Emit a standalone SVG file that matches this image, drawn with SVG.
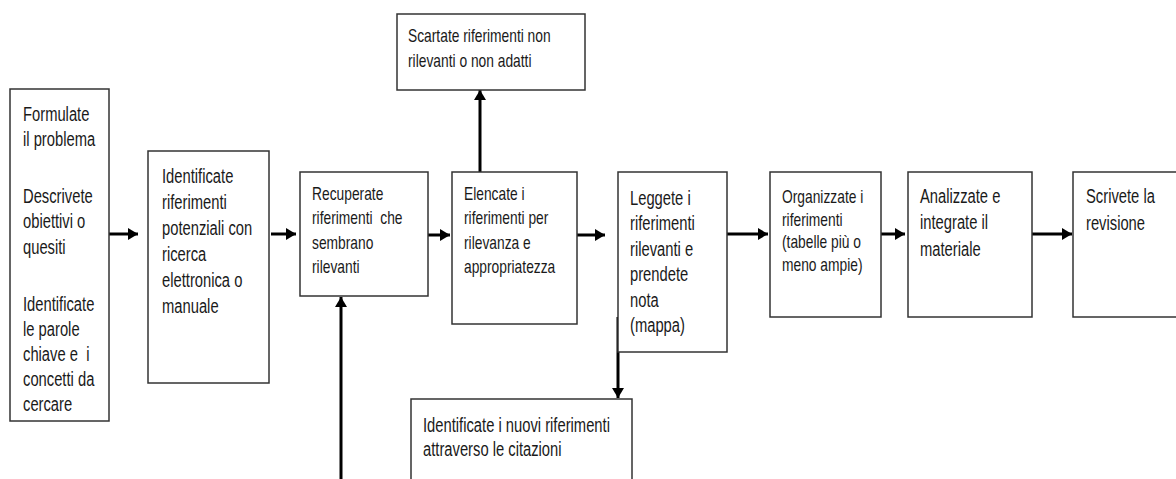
<svg xmlns="http://www.w3.org/2000/svg" width="1176" height="479" viewBox="0 0 1176 479">
<style>
.box{fill:#fff;stroke:#333;stroke-width:1.5}
.t{font-family:"Liberation Sans",Arial,sans-serif;fill:#1a1a1a;white-space:pre}
.l{font-size:19.5px}
.s{font-size:18px}
.c{stroke:#000;stroke-width:3;fill:none}
</style>
<defs>
<marker id="ah" markerUnits="userSpaceOnUse" markerWidth="11" markerHeight="12" refX="10" refY="6" orient="auto">
<path d="M0,0 L10,6 L0,12 z" fill="#000"/>
</marker>
</defs>
<rect width="1176" height="479" fill="#fff"/>
<g id="connectors">
<line class="c" x1="107" y1="234" x2="138" y2="234" marker-end="url(#ah)"/>
<line class="c" x1="271" y1="234" x2="296" y2="234" marker-end="url(#ah)"/>
<line class="c" x1="424" y1="235" x2="450" y2="235" marker-end="url(#ah)"/>
<line class="c" x1="577" y1="235" x2="605" y2="235" marker-end="url(#ah)"/>
<line class="c" x1="727" y1="234" x2="768" y2="234" marker-end="url(#ah)"/>
<line class="c" x1="866" y1="234" x2="905" y2="234" marker-end="url(#ah)"/>
<line class="c" x1="1032" y1="234" x2="1072" y2="234" marker-end="url(#ah)"/>
<line class="c" x1="480" y1="172" x2="480" y2="90" marker-end="url(#ah)"/>
<line class="c" x1="341" y1="479" x2="341" y2="297" marker-end="url(#ah)"/>
<line class="c" x1="618" y1="317" x2="618" y2="398" marker-end="url(#ah)"/>
</g>
<g id="n1">
<rect class="box" x="10" y="89" width="99" height="332"/>
<text class="t l" transform="translate(23,0) scale(0.757,1)"><tspan x="0" y="121">Formulate</tspan><tspan x="0" y="146.5">il problema</tspan><tspan x="0" y="203">Descrivete</tspan><tspan x="0" y="228.5">obiettivi o</tspan><tspan x="0" y="254">quesiti</tspan><tspan x="0" y="311">Identificate</tspan><tspan x="0" y="336">le parole</tspan><tspan x="0" y="361">chiave e  i</tspan><tspan x="0" y="386">concetti da</tspan><tspan x="0" y="411">cercare</tspan></text>
</g>
<g id="n2">
<rect class="box" x="148" y="151" width="121" height="232"/>
<text class="t l" transform="translate(162,0) scale(0.757,1)"><tspan x="0" y="183">Identificate</tspan><tspan x="0" y="209">riferimenti</tspan><tspan x="0" y="235">potenziali con</tspan><tspan x="0" y="261">ricerca</tspan><tspan x="0" y="287">elettronica o</tspan><tspan x="0" y="313">manuale</tspan></text>
</g>
<g id="n3">
<rect class="box" x="300" y="172" width="128" height="124"/>
<text class="t s" transform="translate(312,0) scale(0.767,1)"><tspan x="0" y="200">Recuperate</tspan><tspan x="0" y="224.5">riferimenti  che</tspan><tspan x="0" y="249">sembrano</tspan><tspan x="0" y="273.5">rilevanti</tspan></text>
</g>
<g id="n4">
<rect class="box" x="452" y="172" width="125" height="152"/>
<text class="t s" transform="translate(464,0) scale(0.767,1)"><tspan x="0" y="200">Elencate i</tspan><tspan x="0" y="224.5">riferimenti per</tspan><tspan x="0" y="249">rilevanza e</tspan><tspan x="0" y="273.5">appropriatezza</tspan></text>
</g>
<g id="n5">
<rect class="box" x="397" y="14" width="188" height="76"/>
<text class="t s" transform="translate(408,0) scale(0.767,1)"><tspan x="0" y="42">Scartate riferimenti non</tspan><tspan x="0" y="67">rilevanti o non adatti</tspan></text>
</g>
<g id="n6">
<rect class="box" x="618" y="172" width="109" height="180"/>
<text class="t l" transform="translate(630,0) scale(0.757,1)"><tspan x="0" y="205">Leggete i</tspan><tspan x="0" y="230.5">riferimenti</tspan><tspan x="0" y="256">rilevanti e</tspan><tspan x="0" y="281.5">prendete</tspan><tspan x="0" y="307">nota</tspan><tspan x="0" y="332.5">(mappa)</tspan></text>
</g>
<g id="n7">
<rect class="box" x="770" y="172" width="111" height="145"/>
<text class="t s" transform="translate(782,0) scale(0.767,1)"><tspan x="0" y="203">Organizzate i</tspan><tspan x="0" y="225.7">riferimenti</tspan><tspan x="0" y="248.4">(tabelle più o</tspan><tspan x="0" y="271">meno ampie)</tspan></text>
</g>
<g id="n8">
<rect class="box" x="908" y="172" width="124" height="145"/>
<text class="t l" transform="translate(920,0) scale(0.757,1)"><tspan x="0" y="203">Analizzate e</tspan><tspan x="0" y="229.5">integrate il</tspan><tspan x="0" y="256">materiale</tspan></text>
</g>
<g id="n9">
<rect class="box" x="1073" y="172" width="110" height="145"/>
<text class="t l" transform="translate(1086,0) scale(0.757,1)"><tspan x="0" y="203">Scrivete la</tspan><tspan x="0" y="230">revisione</tspan></text>
</g>
<g id="n10">
<rect class="box" x="411" y="399" width="221" height="90"/>
<text class="t l" transform="translate(423,0) scale(0.757,1)"><tspan x="0" y="432">Identificate i nuovi riferimenti</tspan><tspan x="0" y="456">attraverso le citazioni</tspan></text>
</g>
</svg>
